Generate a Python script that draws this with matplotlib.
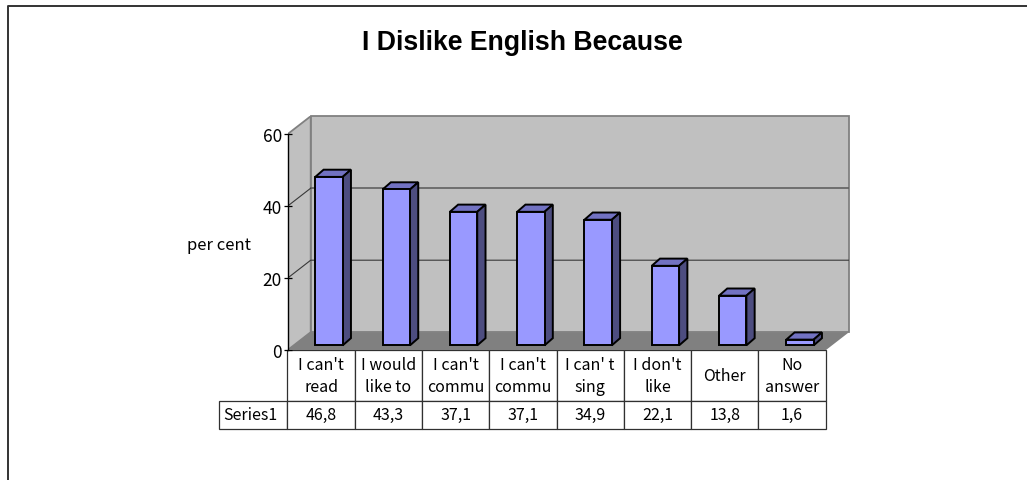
"""
I Dislike English Because - 3D look column chart with a data table underneath.
"""
import matplotlib
matplotlib.use('Agg')
import matplotlib.pyplot as plt
from matplotlib.lines import Line2D

categories = ["I can't\nread", "I would\nlike to", "I can't\ncommu", "I can't\ncommu",
              "I can' t\nsing", "I don't\nlike", "Other", "No\nanswer"]
values = [46.8, 43.3, 37.1, 37.1, 34.9, 22.1, 13.8, 1.6]
value_labels = ["46,8", "43,3", "37,1", "37,1", "34,9", "22,1", "13,8", "1,6"]
y_ticks = [0, 20, 40, 60]
series_name = "Series1"

W, H = 1027, 481
plt.rcParams['font.family'] = ['Noto Sans CJK JP', 'DejaVu Sans']

# depth of the box and of each bar, in data units
wall_dx, wall_dy = 0.345, 5.0
bar_dx, bar_dy = 0.123, 2.0
bar_x, bar_lift = 0.413, 1.34
bar_width = 0.407
y_max = 60

wall_color = '#C0C0C0'
floor_color = '#808080'
front_color = '#9999FF'
top_color = '#7272C2'
side_color = '#4D4D80'
edge_lw = 1.4


def px_box(x0, y0, x1, y1):
    # pixel box (y down) to figure fractions
    return [x0 / W, 1 - y1 / H, (x1 - x0) / W, (y1 - y0) / H]


fig = plt.figure(figsize=(W / 100, H / 100), dpi=100, facecolor='white')

# outer frame, only left and top show in the crop
fig.add_artist(Line2D([8 / W, 8 / W, 1], [0, 1 - 7 / H, 1 - 7 / H], color='#333333', lw=1.4))

ax = fig.add_axes(px_box(287.5, 117.2, 849, 351.2))
ax.patch.set_visible(False)
n = len(values)
ax.set_xlim(0, n + wall_dx)
ax.set_ylim(0, y_max + wall_dy)

# walls and floor
ax.fill([0, wall_dx, wall_dx, 0], [0, wall_dy, y_max + wall_dy, y_max], fc=wall_color, ec=floor_color, lw=1.3, zorder=1)
ax.fill([wall_dx, n + wall_dx, n + wall_dx, wall_dx], [wall_dy, wall_dy, y_max + wall_dy, y_max + wall_dy],
        fc=wall_color, ec=floor_color, lw=1.3, zorder=1, clip_on=False)
ax.fill([0, n, n + wall_dx, wall_dx], [0, 0, wall_dy, wall_dy], fc=floor_color, ec='none', zorder=2)

# gridlines, the 40 one reads heavier and greyer than the 20 one
ax.plot([0, wall_dx, n + wall_dx], [20, 20 + wall_dy, 20 + wall_dy], color='#383838', lw=0.8, zorder=2)
ax.plot([wall_dx, n + wall_dx], [40 + wall_dy, 40 + wall_dy], color='#606060', lw=1.2, zorder=2)
ax.plot([0, wall_dx], [40, 40 + wall_dy], color='#383838', lw=0.8, zorder=2)

# bars
for i, v in enumerate(values):
    x0 = i + bar_x
    x1 = x0 + bar_width
    top = bar_lift + v
    ax.bar(x0, v, bar_width, bottom=bar_lift, align='edge', color=front_color, edgecolor='black', lw=edge_lw, zorder=5)
    ax.fill([x0, x1, x1 + bar_dx, x0 + bar_dx], [top, top, top + bar_dy, top + bar_dy],
            fc=top_color, ec='black', lw=edge_lw, zorder=4)
    ax.fill([x1, x1 + bar_dx, x1 + bar_dx, x1], [bar_lift, bar_lift + bar_dy, top + bar_dy, top],
            fc=side_color, ec='black', lw=edge_lw, zorder=4)

for s in ['top', 'right', 'bottom']:
    ax.spines[s].set_visible(False)
ax.spines['left'].set_bounds(0, y_max)
ax.spines['left'].set_linewidth(1.0)
ax.spines['left'].set_zorder(6)
ax.set_xticks([])
ax.set_yticks(y_ticks)
ax.tick_params(axis='y', direction='inout', length=6, width=0.9, pad=1, labelsize=12.5)

fig.text(522 / W, 1 - 43 / H, "I Dislike English Because", ha='center', va='center',
         fontsize=19.2, fontweight='bold', family='Liberation Sans')
fig.text(219 / W, 1 - 246 / H, "per cent", ha='center', va='center', fontsize=12)

# data table, first column is the series name and the corner stays empty
tax = fig.add_axes(px_box(219, 351.2, 825.7, 430))
tax.axis('off')
tbl = tax.table(cellText=[[""] + value_labels], colLabels=[""] + categories,
                cellLoc='center', colLoc='center', bbox=[0, 0, 1, 1])
tbl.auto_set_font_size(False)
tbl.add_cell(1, 0, width=1, height=1, text=series_name, loc='left')
tbl[(1, 0)].PAD = 0.06
for (r, c), cell in tbl.get_celld().items():
    cell.set_width((68.5 if c == 0 else 67.3) / 606.9)
    cell.set_height((50.5 if r == 0 else 28.5) / 79)
    cell.set_linewidth(0.9)
    cell.set_edgecolor('#303030')
    cell.get_text().set_fontsize(11.5)
    if r == 0:
        cell.get_text().set_linespacing(1.35)
tbl[(0, 0)].visible_edges = ''
tbl[(0, 0)].set_facecolor('none')
tax.patch.set_visible(False)
tax.set_zorder(ax.get_zorder() - 1)

fig.savefig('out.png', dpi=100)
